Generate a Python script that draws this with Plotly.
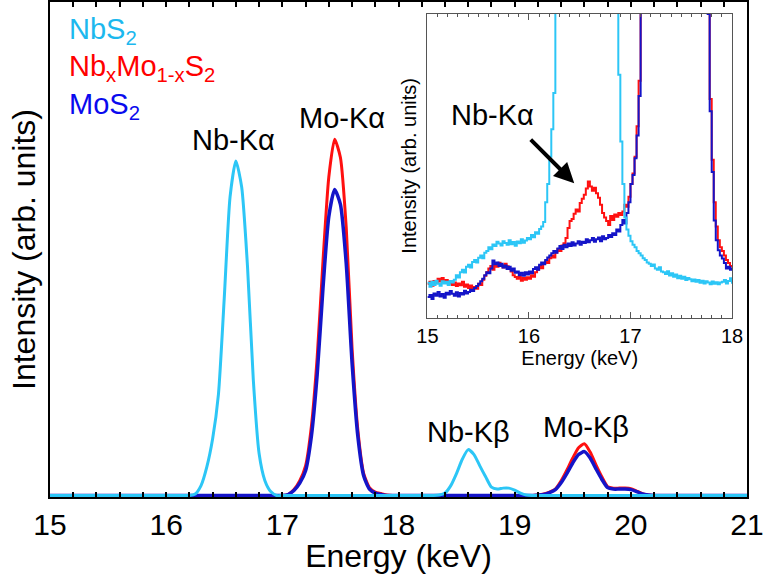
import numpy as np
import plotly.graph_objects as go

# ---------------- full-range spectra (0.05 keV steps, 15.00 ... 21.00 keV) ----------------
energy = np.round(np.arange(121) * 0.05 + 15.0, 2)

nbs2 = (
    [0.0] * 20                                                            # 15.00-15.95
    + [0.0, 0.0, 0.0, 0.0, 0.0, 0.003, 0.02, 0.058, 0.115, 0.205,
       0.40, 0.605, 0.678, 0.625, 0.465, 0.235, 0.085, 0.03, 0.008, 0.0]  # 16.00-16.95
    + [0.0] * 20                                                          # 17.00-17.95
    + [0.0, 0.0, 0.0, 0.0, 0.0, 0.0, 0.0, 0.001, 0.005, 0.02,
       0.045, 0.074, 0.093, 0.083, 0.06, 0.038, 0.017, 0.013, 0.015, 0.015]  # 18.00-18.95
    + [0.011, 0.005, 0.001] + [0.0] * 17                                  # 19.00-19.95
    + [0.0] * 20                                                          # 20.00-20.95
    + [0.0]                                                               # 21.00
)

nbmos2 = (
    [0.0] * 20
    + [0.0] * 20
    + [0.0, 0.002, 0.012, 0.03, 0.06, 0.14, 0.28, 0.475, 0.645, 0.722,
       0.685, 0.543, 0.30, 0.133, 0.045, 0.016, 0.007, 0.004, 0.001, 0.0]
    + [0.0] * 20
    + [0.0, 0.0, 0.0, 0.0, 0.001, 0.003, 0.007, 0.013, 0.03, 0.052,
       0.076, 0.097, 0.105, 0.088, 0.062, 0.038, 0.018, 0.015, 0.015, 0.015]
    + [0.014, 0.009, 0.004, 0.001] + [0.0] * 16
    + [0.0]
)

mos2 = (
    [0.0] * 20
    + [0.0] * 20
    + [0.0, 0.002, 0.01, 0.025, 0.05, 0.12, 0.245, 0.42, 0.565, 0.62,
       0.59, 0.47, 0.27, 0.12, 0.04, 0.013, 0.005, 0.002, 0.0, 0.0]
    + [0.0] * 20
    + [0.0, 0.0, 0.0, 0.0, 0.001, 0.002, 0.006, 0.012, 0.026, 0.045,
       0.066, 0.083, 0.089, 0.076, 0.054, 0.033, 0.016, 0.013, 0.013, 0.013]
    + [0.012, 0.008, 0.003, 0.001] + [0.0] * 16
    + [0.0]
)

# ---------------- low-intensity detail, 15-18 keV (0.02 keV steps) ----------------
energy_zoom = np.round(np.arange(151) * 0.02 + 15.0, 2)
OFF = 1.5  # counts far above the zoomed window

nbs2_zoom = (
    [0.115, 0.102, 0.118, 0.108, 0.122, 0.112, 0.105, 0.120, 0.113, 0.118, 0.108, 0.121, 0.116]
    + [0.125, 0.140, 0.132, 0.150, 0.158, 0.149, 0.168, 0.174, 0.165, 0.183, 0.190, 0.182,
       0.197, 0.205, 0.196, 0.214]
    + [0.220, 0.232, 0.225, 0.241, 0.236, 0.250, 0.244, 0.238, 0.252, 0.246, 0.240, 0.255,
       0.242, 0.249, 0.237, 0.251, 0.245, 0.258, 0.247, 0.254, 0.262]
    + [0.258, 0.272, 0.265, 0.281, 0.276, 0.292, 0.300, 0.315]
    + [0.38, 0.44, 0.53, 0.62, 0.74, 1.2]
    + [OFF] * 29
    + [1.1, 0.80, 0.58, 0.44, 0.33, 0.29, 0.27, 0.252, 0.24, 0.232, 0.22, 0.212]
    + [0.205, 0.196, 0.190, 0.182, 0.178, 0.170, 0.175, 0.162, 0.158, 0.166, 0.152]
    + [0.150, 0.144, 0.153, 0.139, 0.146, 0.135, 0.142, 0.130, 0.138, 0.128, 0.135, 0.124,
       0.131, 0.127, 0.120]
    + [0.126, 0.118, 0.124, 0.115, 0.122, 0.113, 0.120, 0.116, 0.110, 0.119, 0.112, 0.117,
       0.110, 0.116]
    + [0.118, 0.124, 0.113, 0.121, 0.130, 0.112]
)

nbmos2_zoom = (
    [0.112, 0.118, 0.105, 0.121, 0.114, 0.128, 0.119, 0.131, 0.117, 0.124]
    + [0.113, 0.120, 0.108, 0.116, 0.104, 0.113, 0.107, 0.118, 0.102, 0.109]
    + [0.098, 0.106, 0.092, 0.101, 0.095, 0.112, 0.108, 0.125, 0.138, 0.150]
    + [0.162, 0.170, 0.158, 0.176, 0.168, 0.181, 0.172, 0.165, 0.178, 0.169]
    + [0.160, 0.152, 0.140, 0.134, 0.128, 0.136, 0.122, 0.131, 0.125, 0.133]
    + [0.128, 0.140, 0.135, 0.150, 0.158, 0.170, 0.163, 0.178, 0.186, 0.180]
    + [0.196, 0.205, 0.198, 0.215, 0.226, 0.220, 0.238, 0.245, 0.262, 0.295]
    + [0.318, 0.325, 0.342, 0.356, 0.350, 0.378, 0.392, 0.405, 0.425, 0.448]
    + [0.432, 0.418, 0.428, 0.410, 0.395, 0.372, 0.345, 0.330, 0.318, 0.305]
    + [0.335, 0.322, 0.340, 0.332, 0.345, 0.338, 0.350, 0.372, 0.365, 0.398]
    + [0.44, 0.475, 0.53, 0.63, 0.78]
    + [OFF] * 33
    + [1.05, 0.72, 0.52, 0.38, 0.30, 0.255, 0.232, 0.22, 0.205, 0.19, 0.18, 0.17, 0.165]
)

mos2_zoom = (
    [0.068, 0.075, 0.062, 0.080, 0.072, 0.085, 0.070, 0.078, 0.066, 0.082]
    + [0.076, 0.088, 0.079, 0.072, 0.084, 0.070, 0.081, 0.076, 0.089, 0.080]
    + [0.085, 0.092, 0.088, 0.098, 0.104, 0.112, 0.120, 0.128, 0.140, 0.150]
    + [0.146, 0.162, 0.188, 0.176, 0.182, 0.170, 0.178, 0.165, 0.172, 0.160]
    + [0.168, 0.155, 0.162, 0.148, 0.152, 0.140, 0.148, 0.138, 0.150, 0.142]
    + [0.152, 0.146, 0.160, 0.166, 0.158, 0.174, 0.182, 0.176, 0.190, 0.198]
    + [0.205, 0.212, 0.220, 0.214, 0.228, 0.236, 0.226, 0.240, 0.232, 0.244]
    + [0.236, 0.248, 0.238, 0.244, 0.252, 0.240, 0.250, 0.246, 0.258, 0.248]
    + [0.255, 0.262, 0.250, 0.258, 0.264, 0.252, 0.268, 0.258, 0.262, 0.272]
    + [0.266, 0.278, 0.272, 0.290, 0.284, 0.305, 0.322, 0.310, 0.345, 0.380]
    + [0.44, 0.47, 0.525, 0.60, 0.73]
    + [OFF] * 33
    + [1.0, 0.68, 0.48, 0.32, 0.255, 0.222, 0.205, 0.195, 0.18, 0.162, 0.168, 0.158, 0.165]
)

for arr in (nbs2, nbmos2, mos2):
    assert len(arr) == len(energy)
for arr in (nbs2_zoom, nbmos2_zoom, mos2_zoom):
    assert len(arr) == len(energy_zoom)

series_names = ["NbS<sub>2</sub>", "Nb<sub>x</sub>Mo<sub>1-x</sub>S<sub>2</sub>", "MoS<sub>2</sub>"]
peak_labels = [("Nb-K\u03b1", 0.2636, 0.7203), ("Mo-K\u03b1", 0.4183, 0.7656),
               ("Nb-K\u03b2", 0.6010, 0.1308), ("Mo-K\u03b2", 0.7686, 0.1408)]

CYAN = "#2CC6F6"
RED = "#FF1010"
BLUE = "#1414C8"
LEGEND_COLORS = ["#1CB8EE", "#FF0000", "#0A0AEE"]
FONT = "Liberation Sans, Arial, Helvetica, sans-serif"

fig = go.Figure()

# main spectra: red, blue, then cyan on top
fig.add_trace(go.Scatter(x=energy, y=nbmos2, mode="lines", line=dict(color=RED, width=3, shape="spline", smoothing=0.6),
                         xaxis="x", yaxis="y", showlegend=False))
fig.add_trace(go.Scatter(x=energy, y=mos2, mode="lines", line=dict(color=BLUE, width=3.5, shape="spline", smoothing=0.6),
                         xaxis="x", yaxis="y", showlegend=False))
fig.add_trace(go.Scatter(x=energy, y=nbs2, mode="lines", line=dict(color=CYAN, width=3, shape="spline", smoothing=0.6),
                         xaxis="x", yaxis="y", showlegend=False))

# zoomed detail
fig.add_trace(go.Scatter(x=energy_zoom, y=nbmos2_zoom, mode="lines", line=dict(color=RED, width=2, shape="hv"),
                         xaxis="x2", yaxis="y2", showlegend=False))
fig.add_trace(go.Scatter(x=energy_zoom, y=mos2_zoom, mode="lines", line=dict(color=BLUE, width=2, shape="hv"),
                         xaxis="x2", yaxis="y2", showlegend=False))
fig.add_trace(go.Scatter(x=energy_zoom, y=nbs2_zoom, mode="lines", line=dict(color=CYAN, width=2, shape="hv"),
                         xaxis="x2", yaxis="y2", showlegend=False))

annotations = []
for (name, col, yp) in zip(series_names, LEGEND_COLORS, [0.9416, 0.8662, 0.7897]):
    annotations.append(dict(text=name, x=0.0244, y=yp, xref="paper", yref="paper",
                            xanchor="left", yanchor="middle", showarrow=False,
                            font=dict(family=FONT, size=29, color=col)))
for (txt, xp, yp) in peak_labels:
    annotations.append(dict(text=txt, x=xp, y=yp, xref="paper", yref="paper",
                            xanchor="center", yanchor="middle", showarrow=False,
                            font=dict(family=FONT, size=29, color="black")))
annotations.append(dict(text="Nb-K\u03b1", x=0.6354, y=0.7716, xref="paper", yref="paper",
                        xanchor="center", yanchor="middle", showarrow=False,
                        font=dict(family=FONT, size=29, color="black")))
# arrow pointing at the weak Nb-K alpha peak of the alloy
annotations.append(dict(text="", x=16.446, y=0.443, xref="x2", yref="y2",
                        ax=-45, ay=-45, showarrow=True, arrowhead=2, arrowsize=1.0,
                        arrowwidth=4, arrowcolor="black"))

fig.update_layout(
    width=764, height=574,
    margin=dict(l=50, r=16, t=0, b=77),
    paper_bgcolor="white", plot_bgcolor="white",
    font=dict(family=FONT, color="black"),
    annotations=annotations,
    xaxis=dict(
        domain=[0, 1], range=[15, 21], anchor="y",
        showline=True, linecolor="black", linewidth=2, mirror="ticks",
        ticks="inside", ticklen=5, tickwidth=1.5, tickcolor="black", dtick=1, tick0=15,
        minor=dict(dtick=0.2, ticks="inside", ticklen=5, tickwidth=1.5, tickcolor="black"),
        showgrid=False, zeroline=False, ticklabeloverflow="allow",
        tickfont=dict(family=FONT, size=30, color="black"),
        title=dict(text="Energy (keV)", font=dict(family=FONT, size=32, color="black"), standoff=5),
    ),
    yaxis=dict(
        domain=[0, 1], range=[-0.003, 1.0], anchor="x",
        showline=True, linecolor="black", linewidth=2, mirror=True,
        ticks="", showticklabels=False, showgrid=False, zeroline=False,
        title=dict(text="Intensity (arb. units)", font=dict(family=FONT, size=32, color="black"), standoff=3),
    ),
    xaxis2=dict(
        domain=[0.5415, 0.9785], range=[15, 18], anchor="y2",
        showline=True, linecolor="#555555", linewidth=1, mirror="ticks",
        ticks="inside", ticklen=6, tickwidth=1, tickcolor="#555555", dtick=1, tick0=15,
        minor=dict(dtick=0.1, ticks="inside", ticklen=3, tickwidth=1, tickcolor="#555555"),
        showgrid=False, zeroline=False, ticklabeloverflow="allow",
        tickfont=dict(family=FONT, size=20, color="black"),
        title=dict(text="Energy (keV)", font=dict(family=FONT, size=20, color="black"), standoff=2),
    ),
    yaxis2=dict(
        domain=[0.3622, 0.9759], range=[0, 1], anchor="x2",
        showline=True, linecolor="#555555", linewidth=1, mirror=True,
        ticks="", showticklabels=False, showgrid=False, zeroline=False,
        title=dict(text="Intensity (arb. units)", font=dict(family=FONT, size=20, color="black"), standoff=4),
    ),
)

fig.write_html("out.html")
